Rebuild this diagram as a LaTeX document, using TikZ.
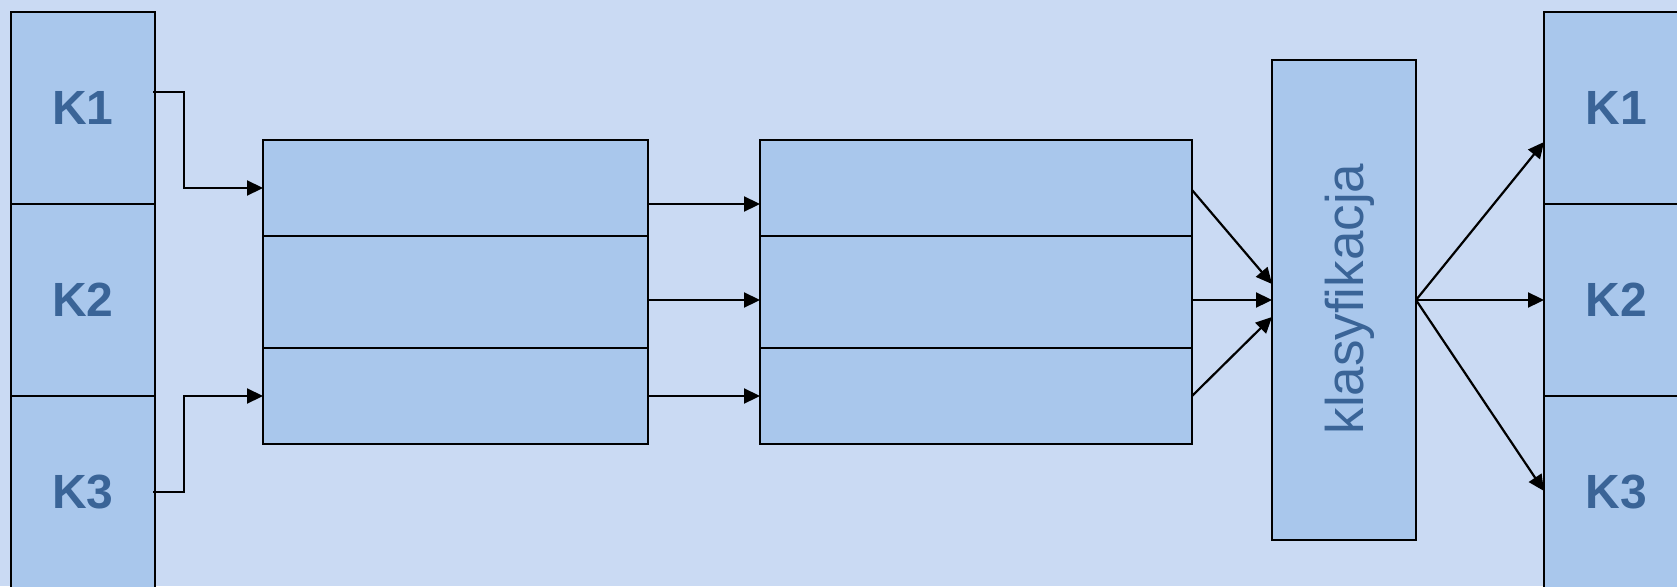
\documentclass[tikz,border=0pt]{standalone}
\usepackage{fontspec}
\setmainfont{Liberation Sans}
\usetikzlibrary{arrows.meta}
\definecolor{bgcol}{HTML}{CADAF3}
\definecolor{boxcol}{HTML}{A9C7EC}
\definecolor{txtcol}{HTML}{3A6497}
\tikzset{
  cell/.style={draw=black, line width=2.2pt, fill=boxcol, rectangle, inner sep=0pt, outer sep=0pt},
  klabel/.style={text=txtcol, font=\fontsize{48}{56}\selectfont\bfseries},
  conn/.style={draw=black, line width=2.2pt},
  arr/.style={conn, -{Triangle[length=16pt,width=15pt]}}
}
\begin{document}
\begin{tikzpicture}[x=1pt,y=-1pt]
\useasboundingbox (0,0) rectangle (1677,586);
\fill[bgcol] (0,0) rectangle (1677,586);
\clip (0,0) rectangle (1677,586);
% left classes
\node[cell, minimum width=144pt, minimum height=192pt, klabel] (L1) at (83,108) {K1};
\node[cell, minimum width=144pt, minimum height=192pt, klabel] (L2) at (83,300) {K2};
\node[cell, minimum width=144pt, minimum height=192pt, klabel] (L3) at (83,492) {K3};
% box 1
\node[cell, minimum width=385pt, minimum height=96pt] (B1a) at (455.5,188) {};
\node[cell, minimum width=385pt, minimum height=112pt] (B1b) at (455.5,292) {};
\node[cell, minimum width=385pt, minimum height=96pt] (B1c) at (455.5,396) {};
% box 2
\node[cell, minimum width=432pt, minimum height=96pt] (B2a) at (976,188) {};
\node[cell, minimum width=432pt, minimum height=112pt] (B2b) at (976,292) {};
\node[cell, minimum width=432pt, minimum height=96pt] (B2c) at (976,396) {};
% classification
\node[cell, minimum width=144pt, minimum height=480pt] (K) at (1344,300) {};
\node[text=txtcol, font=\fontsize{53}{60}\selectfont, rotate=90] (Kt) at (1350,299) {klasyfikacja};
% right classes
\node[cell, minimum width=144pt, minimum height=192pt, klabel] (R1) at (1616,108) {K1};
\node[cell, minimum width=144pt, minimum height=192pt, klabel] (R2) at (1616,300) {K2};
\node[cell, minimum width=144pt, minimum height=192pt, klabel] (R3) at (1616,492) {K3};
% connectors
\draw[arr] ([yshift=16pt,xshift=-2pt]L1.east) -- ++(31,0) |- (B1a.west);
\draw[arr] ([xshift=-2pt]L3.east) -- ++(31,0) |- (B1c.west);
\draw[arr] ([yshift=-16pt]B1a.east) -- ([yshift=-16pt]B2a.west);
\draw[arr] ([yshift=-8pt]B1b.east) -- ([yshift=-8pt]B2b.west);
\draw[arr] (B1c.east) -- (B2c.west);
\draw[arr] ([yshift=-2pt]B2a.east) -- ([yshift=16pt]K.west);
\draw[arr] ([yshift=-8pt]B2b.east) -- (K.west);
\draw[arr] (B2c.east) -- ([yshift=-17pt]K.west);
\draw[arr] (K.east) -- ([yshift=-34pt]R1.west);
\draw[arr] (K.east) -- (R2.west);
\draw[arr] (K.east) -- ([yshift=1pt]R3.west);
\end{tikzpicture}
\end{document}
